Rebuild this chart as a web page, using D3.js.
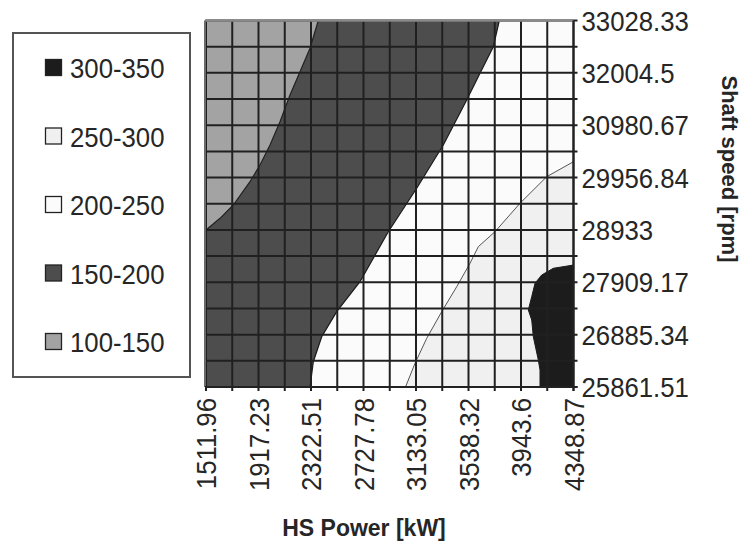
<!DOCTYPE html>
<html><head><meta charset="utf-8">
<script src="https://cdn.jsdelivr.net/npm/d3@7"></script>
<style>
body{margin:0;background:#fff}
svg{display:block}
text{font-family:"Liberation Sans",Arial,sans-serif;fill:#262626}
</style>
</head><body>
<svg id="chart" width="745" height="546"></svg>
<script>
// ---- data ----
const xTicks = [1511.96, 1917.23, 2322.51, 2727.78, 3133.05, 3538.32, 3943.6, 4348.87];
const yTicks = [25861.51, 26885.34, 27909.17, 28933, 29956.84, 30980.67, 32004.5, 33028.33];
const bandLabels = ["300-350", "250-300", "200-250", "150-200", "100-150"];
const bandColors = ["#1c1c1c", "#f0f0f0", "#fbfbfb", "#4d4d4d", "#a3a3a3"];
const xTitle = "HS Power [kW]";
const yTitle = "Shaft speed [rpm]";

// boundary 100-150 | 150-200 (from top edge to left edge), [kW, rpm]
const edge100_150 = [[2378.9,33028.33],[2314.8,32484.8],[2237.6,32027.2],[2160.4,31571.5],[2083.2,31049.5],
  [2006.0,30593.8],[1928.8,30202.7],[1851.6,29876.1],[1722.7,29420.5],[1620.0,29160.4],[1511.96,28931.6]];
// boundary 150-200 | 200-250 (from top edge to bottom edge)
const edge150_200 = [[3776.1,33028.33],[3729.8,32516.0],[3627.1,31995.9],[3524.4,31473.8],[3343.8,30593.8],
  [3138.5,29747.1],[2919.2,28898.4],[2700.8,27920.6],[2520.9,27334.0],[2405.1,26845.1],[2340.3,26356.2],[2314.8,25861.51]];
// boundary 200-250 | 250-300 (from right edge to bottom edge)
const edge250_300 = [[4348.87,30267.2],[4142.0,29973.9],[3935.9,29453.8],[3742.9,28898.4],[3614.0,28605.1],
  [3550.0,28280.4],[3447.3,27822.9],[3331.5,27334.0],[3215.7,26813.8],[3125.4,26325.0],[3052.0,25861.51]];
// boundary 250-300 | 300-350 (from right edge to bottom edge)
const edge300_350 = [[4348.87,28247.2],[4193.0,28182.7],[4103.4,28051.7],[4051.7,27889.4],[4026.3,27627.3],
  [4000.0,27367.2],[4026.3,27171.7],[4038.6,26845.1],[4077.2,26389.5],[4090.3,26193.9],[4090.3,25861.51]];

// ---- layout ----
const svg = d3.select("#chart");
const L = 206, R = 573.5, T = 20.5, B = 387;
const FS = 28, SX = 0.92; // label font size and horizontal condensation
const xMin = xTicks[0], xMax = xTicks[xTicks.length-1];
const yMin = yTicks[0], yMax = yTicks[yTicks.length-1];
const x = d3.scaleLinear().domain([xMin, xMax]).range([L, R]);
const y = d3.scaleLinear().domain([yMin, yMax]).range([B, T]);
const line = d3.line().x(d => x(d[0])).y(d => y(d[1]));

const plot = svg.append("g");
plot.append("rect").attr("x", L).attr("y", T).attr("width", R-L).attr("height", B-T).attr("fill", bandColors[2]);
plot.append("path").attr("d", line([[xMin,yMax], ...edge150_200, [xMin,yMin]]) + "Z").attr("fill", bandColors[3]);
plot.append("path").attr("d", line([[xMin,yMax], ...edge100_150]) + "Z").attr("fill", bandColors[4]);
plot.append("path").attr("d", line([...edge250_300, [xMax,yMin]]) + "Z").attr("fill", bandColors[1]);
plot.append("path").attr("d", line([...edge300_350, [xMax,yMin]]) + "Z").attr("fill", bandColors[0]);

[[edge100_150, "#222", 1.2], [edge150_200, "#1a1a1a", 1.2], [edge250_300, "#555", 1], [edge300_350, "#1c1c1c", 1]]
  .forEach(([e, c, w]) => plot.append("path").attr("d", line(e)).attr("fill", "none").attr("stroke", c).attr("stroke-width", w));

const mids = a => d3.pairs(a).map(([p, q]) => (p + q) / 2);
const xGrid = xTicks.concat(mids(xTicks)).sort(d3.ascending);
const yGrid = yTicks.concat(mids(yTicks)).sort(d3.ascending);

const grid = svg.append("g").attr("stroke", "#202020").attr("stroke-width", 2);
xGrid.forEach(v => grid.append("line").attr("x1", x(v)).attr("x2", x(v)).attr("y1", T).attr("y2", B + 4));
yGrid.forEach(v => grid.append("line").attr("x1", L).attr("x2", R + 4).attr("y1", y(v)).attr("y2", y(v)));

svg.append("line").attr("x1", L - 1).attr("x2", R).attr("y1", T).attr("y2", T).attr("stroke", "#8a8a8a").attr("stroke-width", 2.5);
svg.append("line").attr("x1", L - 1).attr("x2", L - 1).attr("y1", T).attr("y2", B).attr("stroke", "#6a6a6a").attr("stroke-width", 2);
svg.append("line").attr("x1", R).attr("x2", R).attr("y1", T).attr("y2", B + 4).attr("stroke", "#222").attr("stroke-width", 2);
svg.append("line").attr("x1", L - 1).attr("x2", R + 4).attr("y1", B).attr("y2", B).attr("stroke", "#222").attr("stroke-width", 2);

// right axis labels
svg.append("g").selectAll("text").data(yTicks).join("text")
  .attr("transform", d => `translate(${R + 8},${y(d)}) scale(${SX},1)`)
  .attr("dy", "0.36em").attr("font-size", FS).attr("text-anchor", "start")
  .text(d => String(d));

// bottom axis labels (rotated)
svg.append("g").selectAll("text").data(xTicks).join("text")
  .attr("transform", d => `translate(${x(d)},${B + 11}) rotate(-90) scale(${SX},1)`)
  .attr("dy", "0.36em").attr("font-size", FS).attr("text-anchor", "end")
  .text(d => String(d));

// axis titles
svg.append("text").attr("x", 364).attr("y", 536).attr("text-anchor", "middle")
  .attr("font-size", 23).attr("font-weight", "bold").attr("fill", "#111").text(xTitle);
svg.append("text").attr("transform", "translate(722,169) rotate(90)").attr("text-anchor", "middle")
  .attr("font-size", 22).attr("font-weight", "bold").attr("fill", "#111").text(yTitle);

// legend
svg.append("rect").attr("x", 13).attr("y", 33).attr("width", 177).attr("height", 344)
  .attr("fill", "#fff").attr("stroke", "#555").attr("stroke-width", 2);
const lg = svg.append("g").selectAll("g").data(bandLabels).join("g")
  .attr("transform", (d, i) => `translate(0,${68 + i * 68.5})`);
lg.append("rect").attr("x", 45.5).attr("y", -8.5).attr("width", 16).attr("height", 16)
  .attr("fill", (d, i) => bandColors[i]).attr("stroke", "#222").attr("stroke-width", 1.3);
lg.append("text").attr("transform", `translate(70,0) scale(${SX},1)`).attr("dy", "0.36em")
  .attr("font-size", FS).text(d => d);
</script>
</body></html>
